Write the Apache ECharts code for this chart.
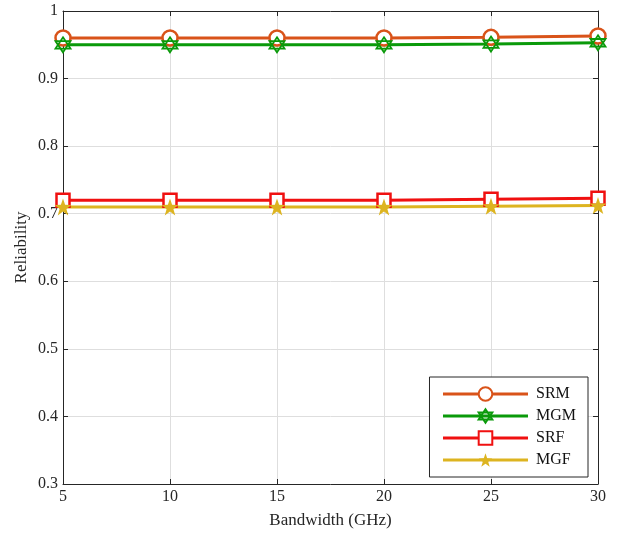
<!DOCTYPE html>
<html>
<head>
<meta charset="utf-8">
<script src="https://cdn.jsdelivr.net/npm/echarts@6/dist/echarts.min.js"></script>
<style>
  html, body { margin: 0; padding: 0; background: #fff; }
  #chart { width: 623px; height: 534px; }
</style>
</head>
<body>
<div id="chart"></div>
<script>
// data
const bandwidth = [5, 10, 15, 20, 25, 30];
const srm = [0.960, 0.960, 0.960, 0.960, 0.961, 0.963];
const mgm = [0.950, 0.950, 0.950, 0.950, 0.951, 0.953];
const srf = [0.720, 0.720, 0.720, 0.720, 0.7215, 0.723];
const mgf = [0.710, 0.710, 0.710, 0.710, 0.711, 0.712];

const font = "'Liberation Serif', 'DejaVu Serif', serif";
const hexagram = "path://M0,-10L8.66,5L-8.66,5Z M0,10L8.66,-5L-8.66,-5Z";
const pentagram = "path://M0,-10L2.35,-3.24L9.51,-3.09L3.8,1.24L5.88,8.09L0,4L-5.88,8.09L-3.8,1.24L-9.51,-3.09L-2.35,-3.24Z";

function pairs(vals) {
  return bandwidth.map((x, i) => [x, vals[i]]);
}

function line(name, color, vals, symbol, size, filled, bw) {
  return {
    name: name,
    type: "line",
    data: pairs(vals),
    symbol: symbol,
    symbolSize: size,
    showAllSymbol: true,
    lineStyle: { color: color, width: 3 },
    itemStyle: {
      color: filled ? color : "#fff",
      borderColor: color,
      borderWidth: filled ? 0 : bw
    },
    emphasis: { disabled: true },
    z: 3
  };
}

const chart = echarts.init(document.getElementById("chart"));
chart.setOption({
  animation: false,
  textStyle: { fontFamily: font },
  grid: { left: 63, right: 25, top: 11, bottom: 49, show: false },
  legend: {
    orient: "vertical",
    right: 35,
    bottom: 57,
    padding: [9, 12, 9, 12],
    itemGap: 6,
    itemWidth: 85,
    itemHeight: 17,
    lineStyle: { width: 3 },
    backgroundColor: "#fff",
    borderColor: "#262626",
    borderWidth: 1,
    textStyle: { fontFamily: font, fontSize: 16, color: "#111", padding: [0, 0, 0, 3] },
    data: ["SRM", "MGM", "SRF", "MGF"]
  },
  xAxis: [{
    type: "value",
    min: 5, max: 30, interval: 5,
    name: "Bandwidth (GHz)",
    nameLocation: "middle",
    nameGap: 28,
    nameTextStyle: { fontFamily: font, fontSize: 17, color: "#262626" },
    axisLine: { show: true, lineStyle: { color: "#262626", width: 1 } },
    axisTick: { show: true, inside: true, length: 5, lineStyle: { color: "#262626" } },
    axisLabel: { fontFamily: font, fontSize: 16, color: "#262626", margin: 5 },
    splitLine: { show: true, lineStyle: { color: "#dedede", width: 1 } }
  }, {
    type: "value",
    position: "top",
    min: 5, max: 30, interval: 5,
    axisLine: { show: true, lineStyle: { color: "#262626", width: 1 } },
    axisTick: { show: true, inside: true, length: 5, lineStyle: { color: "#262626" } },
    axisLabel: { show: false },
    splitLine: { show: false }
  }],
  yAxis: [{
    type: "value",
    min: 0.3, max: 1, interval: 0.1,
    name: "Reliability",
    nameLocation: "middle",
    nameGap: 33,
    nameMoveOverlap: false,
    nameTextStyle: { fontFamily: font, fontSize: 17, color: "#262626" },
    axisLine: { show: true, lineStyle: { color: "#262626", width: 1 } },
    axisTick: { show: true, inside: true, length: 5, lineStyle: { color: "#262626" } },
    axisLabel: {
      fontFamily: font, fontSize: 16, color: "#262626", margin: 5,
      formatter: v => String(Math.round(v * 10) / 10)
    },
    splitLine: { show: true, lineStyle: { color: "#dedede", width: 1 } }
  }, {
    type: "value",
    position: "right",
    min: 0.3, max: 1, interval: 0.1,
    axisLine: { show: true, lineStyle: { color: "#262626", width: 1 } },
    axisTick: { show: true, inside: true, length: 5, lineStyle: { color: "#262626" } },
    axisLabel: { show: false },
    splitLine: { show: false }
  }],
  series: [
    line("SRM", "#D95319", srm, "circle", 15, false, 2.5),
    line("MGM", "#0A9A0A", mgm, hexagram, 15, false, 1.8),
    line("SRF", "#F01010", srf, "rect", 13, false, 2.5),
    line("MGF", "#DDB420", mgf, pentagram, 17, true, 0)
  ]
});
</script>
</body>
</html>
